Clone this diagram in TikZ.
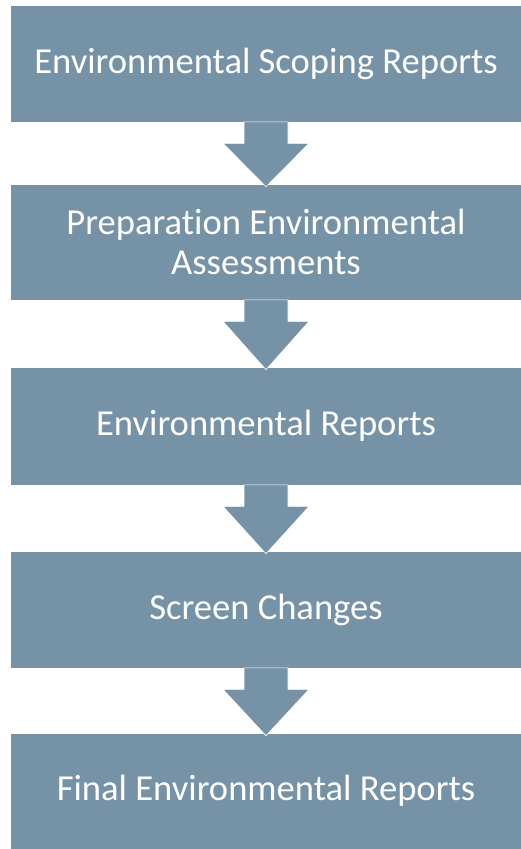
\documentclass[tikz,border=0pt]{standalone}
\usepackage{fontspec}
\setmainfont[Ligatures=NoCommon]{Carlito}
\usetikzlibrary{calc}
\definecolor{boxblue}{RGB}{118,146,167}
\tikzset{
  stagebox/.style={rectangle, fill=boxblue, draw=white, line width=0.6pt,
    minimum width=512pt, inner sep=0pt, text=white, align=center,
    font=\fontsize{36.6}{40}\selectfont},
  flowarrow/.style={fill=boxblue, draw=white, line width=0.6pt, line join=miter}
}
\begin{document}
\begin{tikzpicture}[x=1pt,y=1pt]
\useasboundingbox (0,0) rectangle (520,-849);
\fill[white] (0,0) rectangle (520,-849);
\node[stagebox, minimum height=117pt] (s1) at (266,-63.5) {Environmental Scoping Reports};
\node[stagebox, minimum height=116pt] (s2) at (266,-242) {Preparation Environmental\\Assessments};
\node[stagebox, minimum height=118pt] (s3) at (266,-426) {Environmental Reports};
\node[stagebox, minimum height=117pt] (s4) at (266,-609.5) {Screen Changes};
\node[stagebox, minimum height=116pt] (s5) at (266,-791) {Final Environmental Reports};
\foreach \a/\b in {s1/s2,s2/s3,s3/s4,s4/s5}{
  \filldraw[flowarrow] ([xshift=-22pt,yshift=0.5pt]\a.south) -- ++(0,-21.5) -- ++(-21,0)
    -- ([yshift=-3pt]\b.north) -- ([xshift=43pt,yshift=-21pt]\a.south) -- ++(-21,0)
    -- ([xshift=22pt,yshift=0.5pt]\a.south) -- cycle;
}
\end{tikzpicture}
\end{document}
